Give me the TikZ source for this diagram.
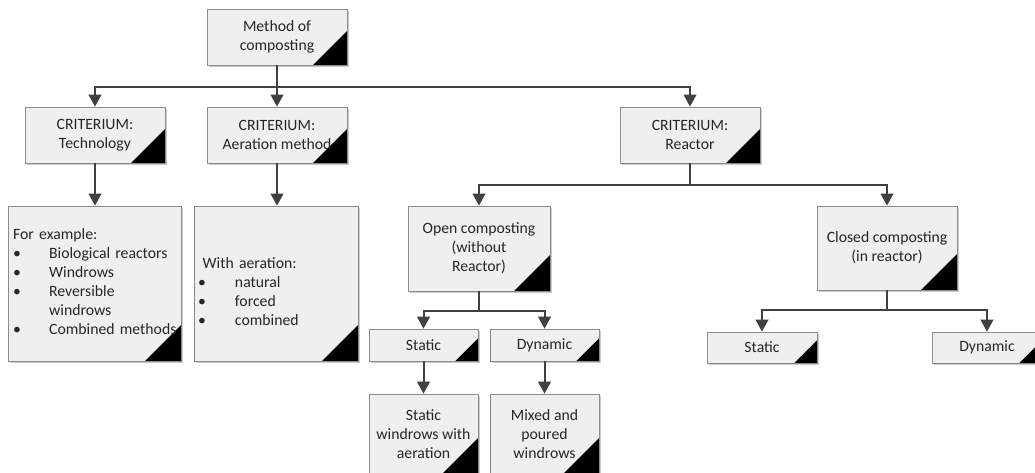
\documentclass[tikz,border=0pt]{standalone}
\usepackage{fontspec}
\setmainfont{Carlito}
\usetikzlibrary{arrows.meta,shadows}

\definecolor{boxfill}{HTML}{EFEFEF}
\definecolor{boxgray}{HTML}{8C8C8C}
\definecolor{linegray}{HTML}{404040}

\begin{document}
\begin{tikzpicture}[x=0.75pt,y=-0.75pt,
    box/.style={draw=boxgray, fill=boxfill, line width=0.6pt, align=center, inner sep=2pt,
      font=\fontsize{11.8pt}{14.25pt}\selectfont, text=black!85,
      drop shadow={shadow xshift=1.2pt, shadow yshift=-1.2pt, fill=black!40, opacity=0.5},
      path picture={\fill[black] (path picture bounding box.south east) -- ++(-#1,0pt) -- ++(#1,#1) -- cycle;}},
    box/.default=25.5pt,
    link/.style={draw=linegray, line width=1.5pt},
    arr/.style={link, -{Triangle[length=9pt,width=9.5pt]}}]

    \path[use as bounding box, fill=white] (0,0) rectangle (1035,472);

    % top level
    \node[box, minimum width=105pt, minimum height=42pt] (method) at (277,37) {Method of\\composting};

    % criteria
    \node[box, minimum width=105pt, minimum height=42pt] (tech) at (95,135) {CRITERIUM:\\Technology};
    \node[box, minimum width=105pt, minimum height=42pt] (aeration) at (277,135) {CRITERIUM:\\Aeration method};
    \node[box, minimum width=105pt, minimum height=42pt] (reactor) at (690,135) {CRITERIUM:\\Reactor};

    % examples
    \node[box=27pt, minimum width=129.75pt, minimum height=116.25pt, text width=122pt, align=left] (techex) at (94.5,283.5)
        {\begin{tabular}{@{}p{27pt}@{}l@{}}
            \multicolumn{2}{@{}l@{}}{For example:}\\
            \textbullet & Biological reactors\\
            \textbullet & Windrows\\
            \textbullet & Reversible\\
                        & windrows\\
            \textbullet & Combined methods
         \end{tabular}};
    \node[box=27pt, minimum width=123pt, minimum height=116.25pt, text width=117pt, align=left] (aerex) at (276,283.5)
        {\begin{tabular}{@{}p{27.75pt}@{}l@{}}
            \multicolumn{2}{@{}l@{}}{}\\
            \multicolumn{2}{@{}l@{}}{\hspace{3.5pt}With aeration:}\\
            \textbullet & natural\\
            \textbullet & forced\\
            \textbullet & combined
         \end{tabular}};

    % reactor branch
    \node[box=27pt, minimum width=106.5pt, minimum height=63.75pt] (open) at (479,248.5) {Open composting\\(without\\Reactor)};
    \node[box=27pt, minimum width=105pt, minimum height=63pt] (closed) at (887,248) {Closed composting\\(in reactor)};

    \node[box=17pt, minimum width=81.75pt, minimum height=24pt] (ostatic) at (423.5,345) {Static};
    \node[box=17pt, minimum width=81.75pt, minimum height=24pt] (odynamic) at (544.5,345) {Dynamic};
    \node[box=17pt, minimum width=82.5pt, minimum height=23.25pt] (cstatic) at (762,347.5) {Static};
    \node[box=17pt, minimum width=82.5pt, minimum height=23.25pt] (cdynamic) at (987,347.5) {Dynamic};

    \node[box=27pt, minimum width=81.75pt, minimum height=60pt] (staticwin) at (423.5,434) {Static\\windrows with\\aeration};
    \node[box=27pt, minimum width=81.75pt, minimum height=60pt] (mixedwin) at (544.5,434) {Mixed and\\poured\\windrows};

    % bars
    \coordinate (topbar) at (277,87);
    \coordinate (reactorbar) at (690,185);
    \coordinate (openbar) at (479,311);
    \coordinate (closedbar) at (887,310);

    % connectors
    \draw[link] (method.south) -- (topbar);
    \draw[arr] (topbar) -| (tech.north);
    \draw[arr] (topbar) -- (aeration.north);
    \draw[arr] (topbar) -| (reactor.north);
    \draw[arr] (tech.south) -- (tech.south |- techex.north);
    \draw[arr] (aeration.south) -- (aeration.south |- aerex.north);

    \draw[link] (reactor.south) -- (reactorbar);
    \draw[arr] (reactorbar) -| (open.north);
    \draw[arr] (reactorbar) -| (closed.north);

    \draw[link] (open.south) -- (openbar);
    \draw[arr] (openbar) -| (ostatic.north);
    \draw[arr] (openbar) -| (odynamic.north);
    \draw[arr] (ostatic.south) -- (staticwin.north);
    \draw[arr] (odynamic.south) -- (mixedwin.north);

    \draw[link] (closed.south) -- (closedbar);
    \draw[arr] (closedbar) -| (cstatic.north);
    \draw[arr] (closedbar) -| (cdynamic.north);
\end{tikzpicture}
\end{document}
